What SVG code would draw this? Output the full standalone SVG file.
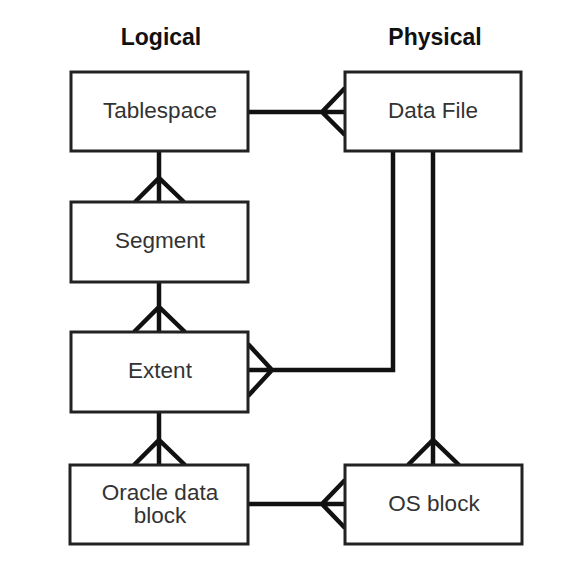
<svg xmlns="http://www.w3.org/2000/svg" width="588" height="582" viewBox="0 0 588 582">
<style>
.box{fill:#fff;stroke:#222;stroke-width:3}
.lbl{font-family:"Liberation Sans",Arial,sans-serif;font-size:22.5px;fill:#333;text-anchor:middle}
.hdr{font-family:"Liberation Sans",Arial,sans-serif;font-size:23px;font-weight:bold;fill:#111;text-anchor:middle}
.c{fill:none;stroke:#111;stroke-width:4.5;stroke-linejoin:miter}
</style>
<rect width="588" height="582" fill="#fff"/>
<text class="hdr" x="161" y="45">Logical</text>
<text class="hdr" x="435" y="45">Physical</text>
<g id="connectors">
<path class="c" d="M248,112 H345 M345,88 L322,112 L345,135"/>
<path class="c" d="M159,151 V202 M135,202 L159,178 L184,202"/>
<path class="c" d="M159,282 V332 M134,332 L159,307 L185,332"/>
<path class="c" d="M159,412 V465 M134,465 L159,440 L185,465"/>
<path class="c" d="M433,151 V465 M408,465 L433,440 L459,465"/>
<path class="c" d="M248,504 H345 M345,480 L322,504 L345,528"/>
<path class="c" d="M393,151 V370 H248 M248,344 L272,370 L248,396"/>
</g>
<g id="tablespace"><rect class="box" x="71" y="72" width="177" height="79"/><text class="lbl" x="160" y="118">Tablespace</text></g>
<g id="datafile"><rect class="box" x="345" y="72" width="176" height="79"/><text class="lbl" x="433" y="118">Data File</text></g>
<g id="segment"><rect class="box" x="71" y="202" width="177" height="80"/><text class="lbl" x="160" y="248">Segment</text></g>
<g id="extent"><rect class="box" x="71" y="332" width="177" height="80"/><text class="lbl" x="160" y="378">Extent</text></g>
<g id="oracleblock"><rect class="box" x="70" y="465" width="178" height="79"/><text class="lbl" x="160" y="500">Oracle data</text><text class="lbl" x="160" y="523">block</text></g>
<g id="osblock"><rect class="box" x="345" y="465" width="177" height="79"/><text class="lbl" x="434" y="511">OS block</text></g>
</svg>
